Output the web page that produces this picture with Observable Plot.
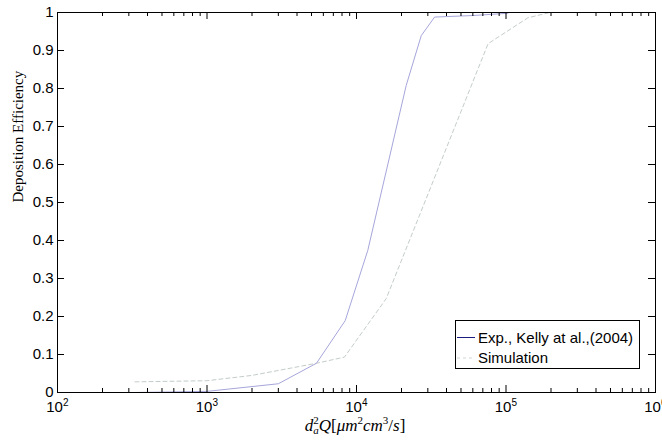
<!DOCTYPE html>
<html><head><meta charset="utf-8">
<script src="https://cdn.jsdelivr.net/npm/d3@7"></script>
<script src="https://cdn.jsdelivr.net/npm/@observablehq/plot@0.6"></script>
<style>
body{margin:0;overflow:hidden;background:#fff}
#chart svg{display:block}
</style>
</head><body><div id="chart"></div>
<script>
// ---- data ----
const seriesNames = ["Exp., Kelly at al.,(2004)", "Simulation"];
const expX = [330, 1000, 3000, 5400, 8400, 11900, 21500, 27100, 33300, 60000, 103000];
const expY = [0, 0.003, 0.023, 0.077, 0.189, 0.374, 0.808, 0.939, 0.988, 0.992, 0.998];
const simX = [330, 1000, 2000, 3000, 5400, 8300, 15800, 75900, 140000, 196000];
const simY = [0.028, 0.031, 0.045, 0.058, 0.077, 0.093, 0.247, 0.918, 0.986, 1.0];

const xMajor = [100, 1000, 10000, 100000, 1000000];
const xMajorBase = ["10", "10", "10", "10", "10"];
const xMajorExp = ["2", "3", "4", "5", "6"];
const xMinorMult = [2, 3, 4, 5, 6, 7, 8, 9];
const yTicks = [0, 0.1, 0.2, 0.3, 0.4, 0.5, 0.6, 0.7, 0.8, 0.9, 1];
const yTickLabels = ["0", "0.1", "0.2", "0.3", "0.4", "0.5", "0.6", "0.7", "0.8", "0.9", "1"];
const yTitle = "Deposition Efficiency";

const expData = expX.map((x, i) => ({x, y: expY[i]}));
const simData = simX.map((x, i) => ({x, y: simY[i]}));
const xMinor = xMajor.slice(0, -1).flatMap(p => xMinorMult.map(m => m * p));

const sans = "'Liberation Sans', Arial, Helvetica, sans-serif";
const serif = "'Liberation Serif', 'DejaVu Serif', serif";
const expColor = "#a6a6dc", simColor = "#c3cdc8";
const major = 7, minor = 4;

const plot = Plot.plot({
  width: 662, height: 442,
  marginLeft: 57, marginRight: 7, marginTop: 12, marginBottom: 50,
  x: {type: "log", domain: [100, 1e6], axis: null},
  y: {domain: [0, 1], axis: null},
  style: {fontFamily: sans, fontSize: "15px", background: "white", color: "black"},
  marks: [
    Plot.line(simData, {x: "x", y: "y", stroke: simColor, strokeWidth: 1, strokeDasharray: "4,3"}),
    Plot.line(expData, {x: "x", y: "y", stroke: expColor, strokeWidth: 1}),
    Plot.frame({stroke: "#000", strokeWidth: 1}),
    // x ticks bottom and top (inward)
    Plot.ruleX(xMajor, {x: d => d, y1: 0, y2: 0, insetBottom: major, stroke: "#000"}),
    Plot.ruleX(xMinor, {x: d => d, y1: 0, y2: 0, insetBottom: minor, stroke: "#000"}),
    Plot.ruleX(xMajor, {x: d => d, y1: 1, y2: 1, insetTop: major, stroke: "#000"}),
    Plot.ruleX(xMinor, {x: d => d, y1: 1, y2: 1, insetTop: minor, stroke: "#000"}),
    // y ticks left and right (inward)
    Plot.ruleY(yTicks, {y: d => d, x1: 100, x2: 100, insetLeft: major, stroke: "#000"}),
    Plot.ruleY(yTicks, {y: d => d, x1: 1e6, x2: 1e6, insetRight: major, stroke: "#000"}),
    // y tick labels
    Plot.text(yTicks, {x: 100, y: d => d, text: (d, i) => yTickLabels[i], textAnchor: "end", dx: -4, fontSize: 15}),
    // x tick labels: base and exponent
    Plot.text(xMajor, {x: d => d, y: 0, text: (d, i) => xMajorBase[i], dx: -3, dy: 15, fontSize: 15}),
    Plot.text(xMajor, {x: d => d, y: 0, text: (d, i) => xMajorExp[i], textAnchor: "start", dx: 5.5, dy: 10, fontSize: 10}),
    // y title
    Plot.text([yTitle], {frameAnchor: "left", text: d => d, rotate: -90, dx: -39, fontFamily: serif, fontSize: 15})
  ]
});
document.getElementById("chart").append(plot);

// x title with sub/superscripts
const svg = d3.select(plot);
const xt = svg.append("text")
  .attr("x", 355).attr("y", 431)
  .attr("text-anchor", "middle")
  .attr("font-family", serif).attr("font-size", 17).attr("fill", "#000");
xt.append("tspan").attr("font-style", "italic").text("d");
xt.append("tspan").attr("font-size", 11).attr("dy", -7).text("2");
xt.append("tspan").attr("font-size", 11).attr("font-style", "italic").attr("dx", -5.5).attr("dy", 10).text("a");
xt.append("tspan").attr("font-style", "italic").attr("dy", -3).text("Q");
xt.append("tspan").text("[");
xt.append("tspan").attr("font-style", "italic").text("μm");
xt.append("tspan").attr("font-size", 11).attr("dy", -7).text("2");
xt.append("tspan").attr("font-style", "italic").attr("dy", 7).text("cm");
xt.append("tspan").attr("font-size", 11).attr("dy", -7).text("3");
xt.append("tspan").attr("dy", 7).text("/");
xt.append("tspan").attr("font-style", "italic").text("s");
xt.append("tspan").text("]");

// legend
const lg = svg.append("g").attr("font-family", sans).attr("font-size", 15).attr("text-anchor", "start");
lg.append("rect").attr("x", 455.5).attr("y", 320.5).attr("width", 184).attr("height", 48)
  .attr("fill", "#fff").attr("stroke", "#000");
const legendItems = [
  {name: seriesNames[0], color: "#1c1c80", dash: null},
  {name: seriesNames[1], color: "#cfd6d2", dash: "3,3"}
];
legendItems.forEach((it, i) => {
  const yy = 337.5 + i * 20.5;
  lg.append("line").attr("x1", 457).attr("x2", 475).attr("y1", yy).attr("y2", yy)
    .attr("stroke", it.color).attr("stroke-width", 1).attr("stroke-dasharray", it.dash);
  lg.append("text").attr("x", 478).attr("y", yy).attr("dy", "0.35em")
    .attr("text-anchor", "start").attr("fill", "#000").text(it.name);
});
</script>
</body></html>
